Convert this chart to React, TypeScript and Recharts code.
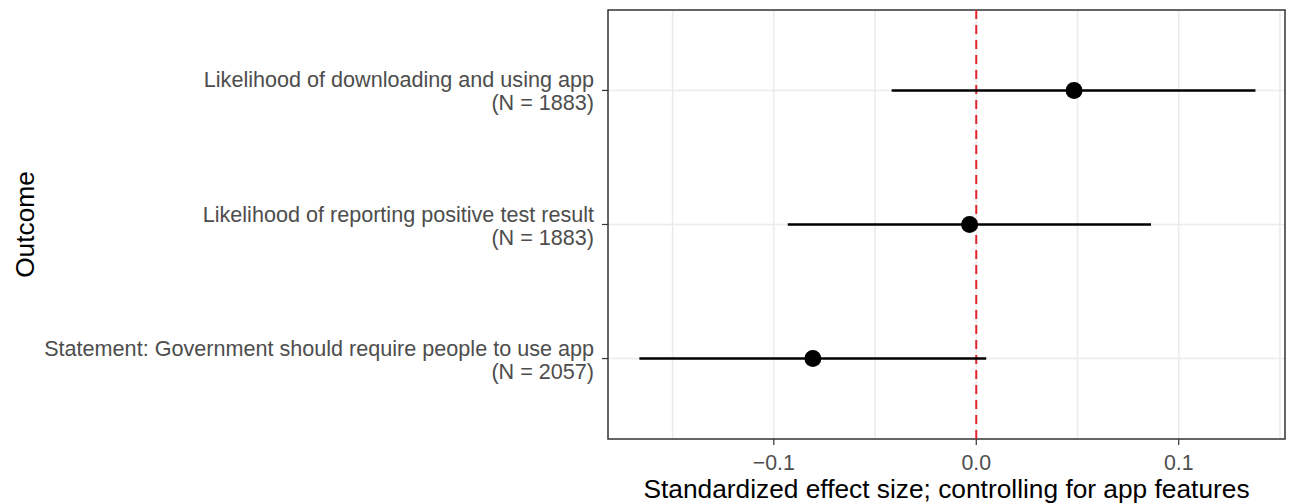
import {
  ScatterChart,
  Scatter,
  XAxis,
  YAxis,
  CartesianGrid,
  ErrorBar,
  ReferenceLine,
  ReferenceArea,
} from "recharts";

const outcomes = [
  "Likelihood of downloading and using app",
  "Likelihood of reporting positive test result",
  "Statement: Government should require people to use app",
];
const sampleSizes = [1883, 1883, 2057];
const estimates = [0.0483, -0.0033, -0.0807];
const lowerCI = [-0.0418, -0.0931, -0.1664];
const upperCI = [0.1379, 0.0863, 0.0049];
const rowPos = [3, 2, 1];
const xTicks = [-0.1, 0, 0.1];
const xGrid = [-0.15, -0.1, -0.05, 0, 0.05, 0.1, 0.15];

const X_DOMAIN: [number, number] = [-0.1819, 0.1525];
const Y_DOMAIN: [number, number] = [0.4, 3.6];
const FONT = "'Liberation Sans', Arial, Helvetica, sans-serif";

const rows = outcomes.map((name, i) => ({
  name,
  n: sampleSizes[i],
  y: rowPos[i],
  est: estimates[i],
  err: [estimates[i] - lowerCI[i], upperCI[i] - estimates[i]],
}));

const fmtX = (v: number) => (v < 0 ? "\u2212" + Math.abs(v).toFixed(1) : v.toFixed(1));

function OutcomeTick(props: any) {
  const { x, y, payload } = props;
  const idx = rowPos.indexOf(payload.value);
  if (idx < 0) return null;
  return (
    <text x={x} y={y} textAnchor="end" fill="#4D4D4D" fontSize={21.6} fontFamily={FONT}>
      <tspan x={x} dy={-3}>{outcomes[idx]}</tspan>
      <tspan x={x} dy={23}>{`(N = ${sampleSizes[idx]})`}</tspan>
    </text>
  );
}

function Dot(props: any) {
  return <circle cx={props.cx} cy={props.cy} r={8.5} fill="#000" />;
}

export default function App() {
  return (
    <div style={{ position: "absolute", left: 0, top: 0, background: "#fff" }}>
      <ScatterChart
        width={1291}
        height={504}
        margin={{ top: 10, right: 6, bottom: 0, left: 0 }}
      >
        <CartesianGrid
          stroke="#EBEBEB"
          strokeWidth={1.5}
          verticalValues={xGrid}
          horizontalValues={rowPos}
        />
        <XAxis
          type="number"
          dataKey="est"
          domain={X_DOMAIN}
          ticks={xTicks}
          allowDataOverflow
          tickFormatter={fmtX}
          height={65}
          tickSize={6}
          tickMargin={10}
          axisLine={false}
          tickLine={{ stroke: "#333", strokeWidth: 1.2 }}
          tick={{ fill: "#4D4D4D", fontSize: 21.3, fontFamily: FONT }}
          label={(p: any) => {
            const vb = p.viewBox;
            return (
              <text
                x={vb.x + vb.width / 2}
                y={vb.y + 59}
                textAnchor="middle"
                fill="#000"
                fontSize={26.3}
                fontFamily={FONT}
              >
                Standardized effect size; controlling for app features
              </text>
            );
          }}
        />
        <YAxis
          type="number"
          dataKey="y"
          domain={Y_DOMAIN}
          ticks={rowPos}
          allowDataOverflow
          width={608}
          tickSize={6}
          tickMargin={8}
          axisLine={false}
          tickLine={{ stroke: "#333", strokeWidth: 1.2 }}
          tick={<OutcomeTick />}
          label={(p: any) => {
            const vb = p.viewBox;
            const cx = 25;
            const cy = vb.y + vb.height / 2;
            return (
              <text
                x={cx}
                y={cy}
                transform={`rotate(-90, ${cx}, ${cy})`}
                textAnchor="middle"
                dominantBaseline="central"
                fill="#000"
                fontSize={26.3}
                fontFamily={FONT}
              >
                Outcome
              </text>
            );
          }}
        />
        <ReferenceLine x={0} stroke="#E3262C" strokeWidth={2} strokeDasharray="9 6" />
        <Scatter data={rows} dataKey="est" shape={<Dot />} isAnimationActive={false}>
          <ErrorBar
            dataKey="err"
            direction="x"
            width={0}
            stroke="#000"
            strokeWidth={2.5}
            isAnimationActive={false}
          />
        </Scatter>
        <ReferenceArea
          x1={X_DOMAIN[0]}
          x2={X_DOMAIN[1]}
          y1={Y_DOMAIN[0]}
          y2={Y_DOMAIN[1]}
          fill="none"
          fillOpacity={0}
          stroke="#333"
          strokeWidth={1.5}
          ifOverflow="visible"
        />
      </ScatterChart>
    </div>
  );
}
